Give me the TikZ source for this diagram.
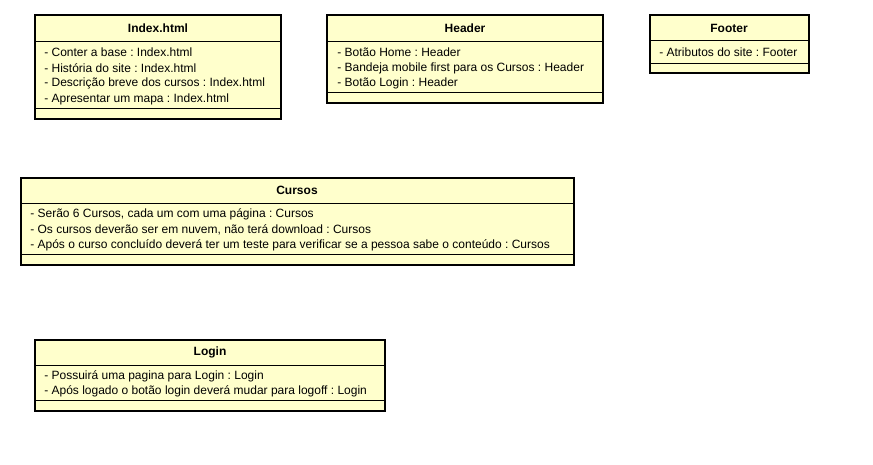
\documentclass[tikz,border=0pt]{standalone}
\usepackage{fontspec}
\setmainfont{Liberation Sans}
\definecolor{clsfill}{HTML}{FFFFCC}
\frenchspacing
\begin{document}
\begin{tikzpicture}[x=0.75pt,y=-0.75pt,
  classbox/.style={draw=black,line width=1.5pt,fill=clsfill},
  sepline/.style={draw=black,line width=0.75pt},
  titletext/.style={font=\fontsize{9}{11}\selectfont\bfseries,anchor=center,inner sep=0pt},
  attrtext/.style={font=\fontsize{9}{11}\selectfont,anchor=west,inner sep=0pt}]
\useasboundingbox (0,0) rectangle (873,464);
\fill[white] (0,0) rectangle (873,464);

% Index.html
\draw[classbox] (35,15) rectangle (281,119);
\draw[sepline] (35,41) -- (281,41);
\draw[sepline] (35,108) -- (281,108);
\node[titletext] (indext) at (158,28) {Index.html};
\node[attrtext] (index1) at (44,52) {- Conter a base : Index.html};
\node[attrtext] (index2) at (44,68) {- História do site : Index.html};
\node[attrtext] (index3) at (44,83) {- Descrição breve dos cursos : Index.html};
\node[attrtext] (index4) at (44,99) {- Apresentar um mapa : Index.html};

% Header
\draw[classbox] (327,15) rectangle (603,103);
\draw[sepline] (327,41) -- (603,41);
\draw[sepline] (327,92) -- (603,92);
\node[titletext] (headert) at (465,28) {Header};
\node[attrtext] (header1) at (337,52) {- Botão Home : Header};
\node[attrtext] (header2) at (337,68) {- Bandeja mobile first para os Cursos : Header};
\node[attrtext] (header3) at (337,83) {- Botão Login : Header};

% Footer
\draw[classbox] (650,15) rectangle (809,73);
\draw[sepline] (650,40) -- (809,40);
\draw[sepline] (650,63) -- (809,63);
\node[titletext] (footert) at (729,28) {Footer};
\node[attrtext] (footer1) at (659,52) {- Atributos do site : Footer};

% Cursos
\draw[classbox] (21,178) rectangle (574,265);
\draw[sepline] (21,203) -- (574,203);
\draw[sepline] (21,254) -- (574,254);
\node[titletext] (cursost) at (297,190) {Cursos};
\node[attrtext] (cursos1) at (30,214) {- Serão 6 Cursos, cada um com uma página : Cursos};
\node[attrtext] (cursos2) at (30,230) {- Os cursos deverão ser em nuvem, não terá download : Cursos};
\node[attrtext] (cursos3) at (30,245) {- Após o curso concluído deverá ter um teste para verificar se a pessoa sabe o conteúdo : Cursos};

% Login
\draw[classbox] (35,340) rectangle (385,411);
\draw[sepline] (35,365) -- (385,365);
\draw[sepline] (35,400) -- (385,400);
\node[titletext] (logint) at (210,352) {Login};
\node[attrtext] (login1) at (44,376) {- Possuirá uma pagina para Login : Login};
\node[attrtext] (login2) at (44,391) {- Após logado o botão login deverá mudar para logoff : Login};
\end{tikzpicture}
\end{document}
